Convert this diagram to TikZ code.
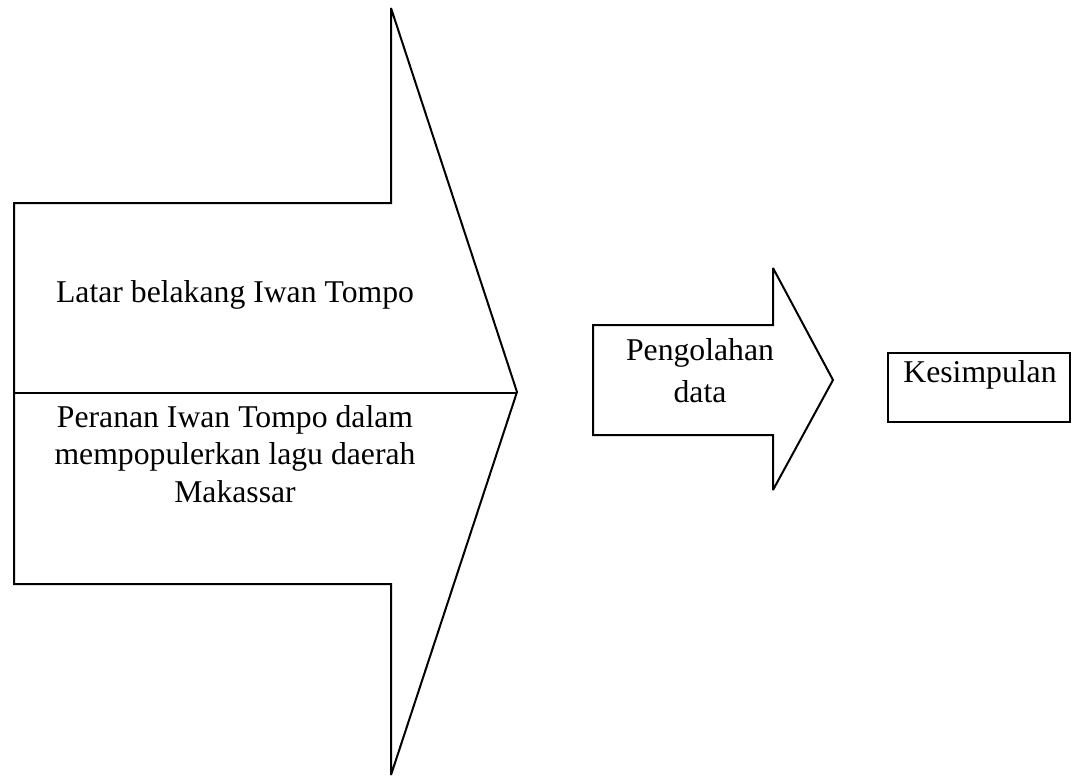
\documentclass[tikz,border=0pt]{standalone}
\usepackage{fontspec}
\setmainfont{Liberation Serif}
\begin{document}
\begin{tikzpicture}[x=1pt,y=-1pt,
  shapeline/.style={draw=black,line width=2pt,miter limit=3},
  lbl/.style={font=\fontsize{31.7}{37.5}\selectfont, align=center, inner sep=0pt}]
\useasboundingbox (0,0) rectangle (1072,777);
% big arrow
\draw[shapeline] (14,203) -- (391,203) -- (391,8) -- (517,392) -- (391,775) -- (391,584) -- (14,584) -- cycle;
\coordinate (divL) at (14,393);
\coordinate (divR) at (517,393);
\draw[shapeline] (divL) -- (divR);
% small arrow
\draw[shapeline] (593,325) -- (773,325) -- (773,268) -- (833,380) -- (773,490) -- (773,435) -- (593,435) -- cycle;
% box
\draw[shapeline] (888,353) rectangle (1070,422);
% texts (base anchor = baseline of last line)
\node[lbl, anchor=base] (latar) at (235,302) {Latar belakang Iwan Tompo};
\node[lbl, anchor=base] (peranan) at (235,502) {Peranan Iwan Tompo dalam\\mempopulerkan lagu daerah\\Makassar};
\node[lbl, anchor=base, font=\fontsize{31.7}{42}\selectfont] (olah) at (700,402) {Pengolahan\\data};
\node[lbl, anchor=base] (kes) at (980,382) {Kesimpulan};
\end{tikzpicture}
\end{document}
